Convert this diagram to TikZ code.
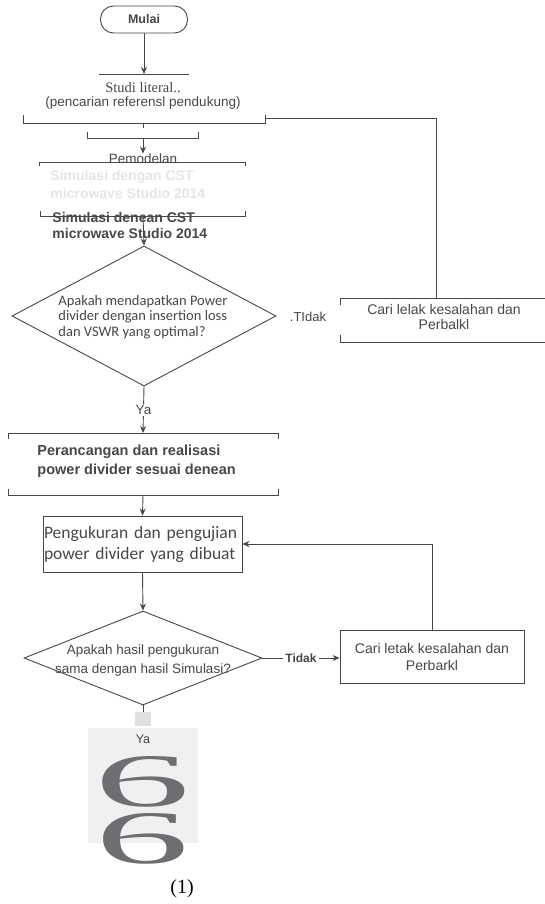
\documentclass[tikz,border=0pt]{standalone}
\usepackage{fontspec}
\newfontfamily\arialfont{Liberation Sans}
\newfontfamily\calibrifont{Carlito}
\newfontfamily\timesfont{Liberation Serif}
\usepackage{tikz}
\usetikzlibrary{shapes.geometric, positioning, arrows.meta}
\definecolor{sixgray}{HTML}{6E6E72}

\begin{document}
\begin{tikzpicture}[x=1pt, y=-1pt, % one unit is one pixel, y runs downwards
  >={Stealth[length=7pt, width=6pt]}, % filled arrow heads
  line width=0.9pt, color=black!72, % grey lines and text
  every node/.style={inner sep=0pt}, % text nodes hug their text
  term/.style={draw, rounded corners=13pt, minimum width=87pt, minimum height=27pt,
    font=\arialfont\bfseries\fontsize{12.5}{14}\selectfont}, % start node
  dec/.style={draw, diamond}, % decisions
  box/.style={draw, rectangle}, % process boxes
  arial/.style={font=\arialfont\fontsize{13.5}{19}\selectfont},
  heavy/.style={font=\arialfont\bfseries\fontsize{14}{16}\selectfont, align=left},
  calibri/.style={font=\calibrifont\fontsize{14.5}{15.5}\selectfont, align=left},
]
    \useasboundingbox (0,0) rectangle (545,904);

    % Mulai and studi literatur
    \node[term] (mulai) at (144,19.5) {Mulai};
    \coordinate (studitop) at (144,74);
    \draw[->] (mulai) -- (studitop);
    \draw (99,74) -- (189,74);
    \node[font=\timesfont\fontsize{14.5}{17}\selectfont] (studi) at (143,87.5) {Studi literal..};
    \node[font=\arialfont\fontsize{13.5}{15}\selectfont] (pencarian) at (143,103.5) {(pencarian referensl pendukung)};
    \draw (23,115) -- (23,123) -- (265,123) -- (265,115);
    \coordinate (b1) at (265,118);
    \coordinate (c1top) at (436,298);
    \draw (b1) -| (c1top);
    \draw (143,123) -- (143,128);
    \draw (87,132) -- (87,138) -- (198,138) -- (198,132);
    \coordinate (b2) at (143,138);

    % Pemodelan / simulasi
    \node[arial] (pemodelan) at (143,159) {Pemodelan};
    \draw[->] (b2) -- (pemodelan.north);
    \draw (39,166) -- (39,162) -- (245,162) -- (245,166);
    \node[heavy, text=black!10, anchor=west, font=\arialfont\bfseries\fontsize{14}{18}\selectfont] (simfade) at (50,184) {Simulasi dengan CST\\microwave Studio 2014};
    \node[heavy, anchor=west] (simulasi) at (52,225) {Simulasi denean CST\\microwave Studio 2014};
    \draw (40,211) -- (40,216) -- (245,216) -- (245,211);
    \coordinate (sim) at (143,216);

    % first decision
    \node[dec, minimum width=264pt, minimum height=140pt] (d1) at (144,316) {};
    \draw[->] (sim) -- (d1.north);
    \node[calibri, anchor=west] (d1txt) at (58,317) {Apakah mendapatkan Power\\divider dengan insertion loss\\dan VSWR yang optimal?};
    \node[font=\arialfont\fontsize{13}{15}\selectfont] (tidak1) at (308,317) {.TIdak};
    \draw (560,298) -- (340,298) -- (340,305);
    \draw (340,335) -- (340,342) -- (560,342);
    \node[font=\arialfont\fontsize{14}{15}\selectfont, align=center] (cari1) at (444,316.5) {Cari lelak kesalahan dan\\Perbalkl};

    % perancangan
    \coordinate (p1) at (143,433);
    \draw[->] (d1.south) -- node[arial, fill=white, inner sep=1.5pt] (ya1) {Ya} (p1);
    \draw (8,439) -- (8,433) -- (278,433) -- (278,439);
    \draw (8,489) -- (8,495) -- (278,495) -- (278,489);
    \node[heavy, anchor=west, font=\arialfont\bfseries\fontsize{14.5}{19}\selectfont] (perancangan) at (37,461.5) {Perancangan dan realisasi\\power divider sesuai denean};
    \coordinate (p2) at (143,495);

    % pengukuran
    \node[box, minimum width=199pt, minimum height=56pt, text width=197pt, align=left,
      font=\calibrifont\fontsize{17.5}{21}\selectfont] (peng) at (142.5,544) {Pengukuran dan pengujian\\power divider yang dibuat};
    \draw[->] (p2) -- (peng.north);

    % second decision
    \node[dec, minimum width=238pt, minimum height=94pt] (d2) at (143,658) {};
    \draw[->] (peng.south) -- (d2.north);
    \node[arial, align=center] (d2txt) at (143,661) {Apakah hasil pengukuran\\sama dengan hasil Simulasi?};
    \node[box, minimum width=184pt, minimum height=53pt, align=center,
      font=\arialfont\fontsize{14}{17}\selectfont] (cari2) at (432,656.5) {Cari letak kesalahan dan\\Perbarkl};
    \draw[->] (d2.east) -- node[fill=white, inner xsep=2pt, font=\arialfont\bfseries\fontsize{12}{14}\selectfont] (tidak2) {Tidak} (d2.east -| cari2.west);
    \draw[->] (cari2.north) |- (peng.east);

    % ya
    \node[fill=black!12, minimum width=16pt, minimum height=14pt] (tick) at (143,719) {};
    \draw (d2.south) -- (tick.north);
    \node[fill=black!6, minimum width=110pt, minimum height=115pt] (hasil) at (143,785.5) {};
    \node[font=\arialfont\fontsize{12.5}{15}\selectfont] (ya2) at (143,739) {Ya};
    \node[text=sixgray] (six1) at (142.5,782) {\resizebox{96pt}{50pt}{\timesfont 6}};
    \node[text=sixgray] (six2) at (142.5,839) {\resizebox{94pt}{50pt}{\timesfont 6}};

    \node[font=\timesfont\fontsize{20}{22}\selectfont, text=black] (nomor) at (182,889) {(1)};
\end{tikzpicture}
\end{document}
